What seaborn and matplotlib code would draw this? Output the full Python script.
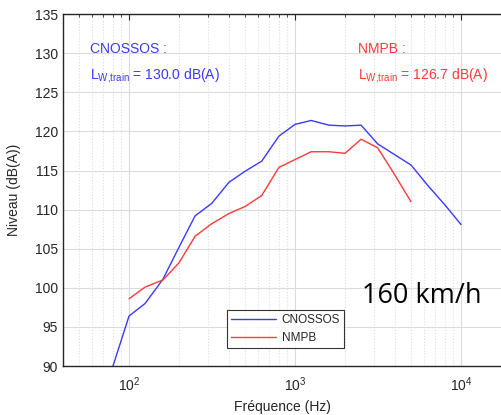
"""
Spectre de puissance acoustique du train a 160 km/h : CNOSSOS vs NMPB.
"""

import matplotlib
matplotlib.use('Agg')
import matplotlib.pyplot as plt
from matplotlib.ticker import LogLocator, NullFormatter
import seaborn as sns
import pandas as pd

# Third-octave band centre frequencies (Hz)
freq_cnossos = [80, 100, 125, 160, 200, 250, 315, 400, 500, 630, 800, 1000,
                1250, 1600, 2000, 2500, 3150, 4000, 5000, 6300, 8000, 10000]
level_cnossos = [90.0, 96.4, 98.0, 101.1, 105.2, 109.2, 110.8, 113.5, 114.9, 116.2, 119.4, 120.9,
                 121.4, 120.8, 120.7, 120.8, 118.4, 117.0, 115.7, 113.1, 110.6, 108.1]

freq_nmpb = [100, 125, 160, 200, 250, 315, 400, 500, 630, 800, 1000,
             1250, 1600, 2000, 2500, 3150, 4000, 5000]
level_nmpb = [98.6, 100.1, 101.0, 103.2, 106.6, 108.2, 109.5, 110.4, 111.8, 115.4, 116.4,
              117.4, 117.4, 117.2, 119.0, 117.9, 114.4, 111.0]

series_names = ['CNOSSOS', 'NMPB']
series_colors = ['#3a3aff', '#ff3a3a']
lw_values = ['130.0', '126.7']
speed_label = '160 km/h'

df = pd.concat([
    pd.DataFrame({'freq': freq_cnossos, 'level': level_cnossos, 'model': series_names[0]}),
    pd.DataFrame({'freq': freq_nmpb, 'level': level_nmpb, 'model': series_names[1]}),
], ignore_index=True)

sns.set_style('white')
plt.rcParams['font.family'] = ['Liberation Sans', 'DejaVu Sans']
plt.rcParams['mathtext.fontset'] = 'custom'
plt.rcParams['mathtext.rm'] = 'Liberation Sans'
plt.rcParams['mathtext.it'] = 'Liberation Sans'

fig = plt.figure(figsize=(5.02, 4.15), dpi=100)
ax = fig.add_axes([0.1255, 0.118, 0.8745, 0.848])

sns.lineplot(data=df, x='freq', y='level', hue='model', hue_order=series_names,
             palette=series_colors, linewidth=1.0, ax=ax, legend=False)

ax.set_xscale('log')
ax.set_xlim(40, 17660)
ax.set_ylim(90, 135)
ax.set_yticks(range(90, 136, 5))

ax.xaxis.set_major_locator(LogLocator(base=10))
ax.xaxis.set_minor_locator(LogLocator(base=10, subs=range(2, 10)))
ax.xaxis.set_minor_formatter(NullFormatter())

ax.grid(True, which='major', color='#dcdcdc', linewidth=0.8)
ax.grid(True, which='minor', axis='x', color='#dcdcdc', linestyle=':', linewidth=0.8)
ax.set_axisbelow(True)

ax.tick_params(axis='both', which='both', direction='in', top=True, right=False,
               labelsize=10, colors='#262626', length=4)
ax.tick_params(axis='x', which='minor', length=2.5)
ax.tick_params(axis='x', which='major', pad=7)
for side in ['left', 'bottom', 'top']:
    ax.spines[side].set_color('#262626')
    ax.spines[side].set_linewidth(1.0)
ax.spines['right'].set_visible(False)

ax.set_xlabel('Fréquence (Hz)', fontsize=10, color='#262626')
ax.set_ylabel('Niveau (dB(A))', fontsize=10, color='#262626', labelpad=10)

# Annotations
sub = r'$_{\mathrm{W{,}train}}$'
ax.text(0.062, 0.889, 'CNOSSOS :', transform=ax.transAxes, color=series_colors[0], fontsize=10)
ax.text(0.062, 0.815, 'L' + sub + ' = ' + lw_values[0] + ' dB(A)',
        transform=ax.transAxes, color=series_colors[0], fontsize=10)
ax.text(0.672, 0.889, 'NMPB :', transform=ax.transAxes, color=series_colors[1], fontsize=10)
ax.text(0.672, 0.815, 'L' + sub + ' = ' + lw_values[1] + ' dB(A)',
        transform=ax.transAxes, color=series_colors[1], fontsize=10)
ax.text(0.68, 0.18, speed_label, transform=ax.transAxes, color='black', fontsize=19.5,
        family=['Open Sans', 'DejaVu Sans'])

handles = [plt.Line2D([], [], color=c, linewidth=1.0) for c in series_colors]
leg = ax.legend(handles, series_names, loc='lower left', bbox_to_anchor=(0.36, 0.035),
                fontsize=8.5, frameon=True, fancybox=False, handlelength=3.8,
                borderpad=0.35, labelspacing=0.45, handletextpad=0.5)
leg.get_frame().set_edgecolor('black')
leg.get_frame().set_linewidth(0.8)

plt.savefig('out.png', dpi=100)
plt.close()
